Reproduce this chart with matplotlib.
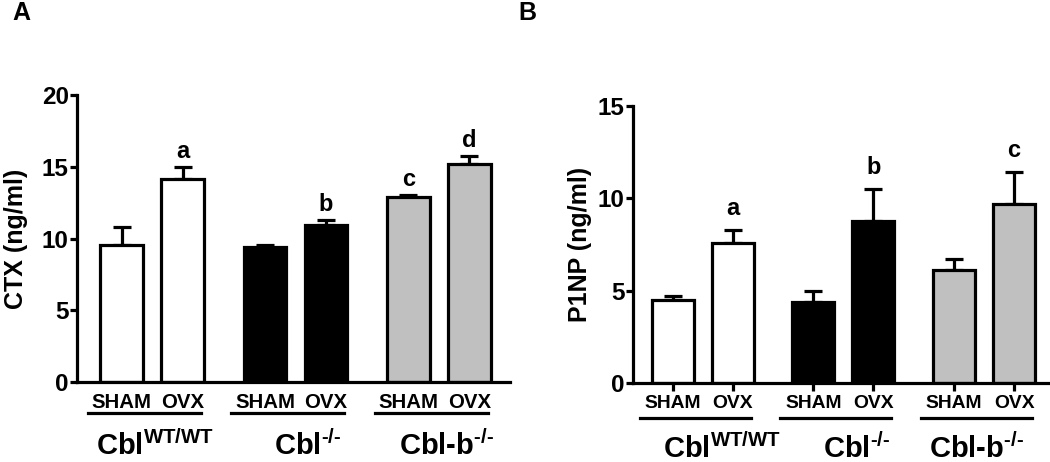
import numpy as np
import matplotlib
matplotlib.use('Agg')
import matplotlib.pyplot as plt

plt.rcParams['font.family'] = 'Liberation Sans'
plt.rcParams['font.weight'] = 'bold'
plt.rcParams['mathtext.fontset'] = 'custom'
plt.rcParams['mathtext.rm'] = 'Liberation Sans:bold'
plt.rcParams['mathtext.bf'] = 'Liberation Sans:bold'

conditions = ['SHAM', 'OVX', 'SHAM', 'OVX', 'SHAM', 'OVX']
groups = [r'Cbl$^{\text{WT/WT}}$', r'Cbl$^{\text{-/-}}$', r'Cbl-b$^{\text{-/-}}$']
colors = ['white', 'white', 'black', 'black', '#c0c0c0', '#c0c0c0']

ctx_mean = [9.55, 14.15, 9.4, 10.95, 12.9, 15.2]
ctx_err = [1.25, 0.85, 0.15, 0.35, 0.15, 0.55]
ctx_sig = ['', 'a', '', 'b', 'c', 'd']

p1np_mean = [4.5, 7.58, 4.37, 8.77, 6.12, 9.69]
p1np_err = [0.2, 0.72, 0.61, 1.73, 0.6, 1.73]
p1np_sig = ['', 'a', '', 'b', '', 'c']

pos = np.array([0, 1, 2.35, 3.35, 4.7, 5.7])

fig = plt.figure(figsize=(10.5, 4.62), dpi=100)
axA = fig.add_axes([0.0733, 0.173, 0.4127, 0.621])
axB = fig.add_axes([0.603, 0.171, 0.397, 0.600])


def draw(ax, mean, err, sig, ymax, ylabel, ypad, lab_fs, xticks, line_y, grp_y, grp_dx, sig_off, xlim):
    ax.bar(pos, mean, width=0.7, color=colors, edgecolor='black', linewidth=2.3, zorder=2)
    ax.errorbar(pos, mean, yerr=[np.zeros(6), err], fmt='none', ecolor='black',
                elinewidth=2.3, capsize=6.5, capthick=2.3, zorder=1)
    for x, m, e, s in zip(pos, mean, err, sig):
        if s:
            ax.annotate(s, (x, m + e), xytext=(0, sig_off), textcoords='offset points',
                        ha='center', va='bottom', fontsize=17, fontweight='bold')
    ax.set_ylim(0, ymax)
    ax.set_xlim(*xlim)
    ax.set_yticks(np.arange(0, ymax + 1, 5))
    ax.spines['top'].set_visible(False)
    ax.spines['right'].set_visible(False)
    ax.spines['left'].set_linewidth(2.3)
    ax.spines['bottom'].set_linewidth(2.3)
    ax.tick_params(axis='y', length=5, width=2.3, labelsize=17.5, pad=1)
    ax.set_xticks(pos)
    ax.set_xticklabels(conditions, fontsize=lab_fs, fontweight='bold')
    if xticks:
        ax.tick_params(axis='x', length=6, width=2.3, pad=3)
    else:
        ax.tick_params(axis='x', length=0, pad=8)
    ax.set_ylabel(ylabel, fontsize=18, fontweight='bold', labelpad=ypad)
    trans = ax.get_xaxis_transform()
    for g in range(3):
        x0 = pos[2 * g] - 0.55
        x1 = pos[2 * g + 1] + 0.3
        ax.plot([x0, x1], [line_y, line_y], color='black', lw=2.3, transform=trans, clip_on=False)
        ax.text((pos[2 * g] + pos[2 * g + 1]) / 2 + grp_dx[g], grp_y, groups[g], transform=trans,
                ha='center', va='baseline', fontsize=21, fontweight='bold')


draw(axA, ctx_mean, ctx_err, ctx_sig, 20, 'CTX (ng/ml)', 10, 14.7, False, -0.108, -0.254,
     [0.05, 0.2, 0.12], 3, (-0.73, 6.37))
draw(axB, p1np_mean, p1np_err, p1np_sig, 15, 'P1NP (ng/ml)', 4, 13.9, True, -0.126, -0.27,
     [0.33, 0.22, -0.13], 7, (-0.66, 6.3))

fig.text(0.0114, 0.957, 'A', fontsize=18, fontweight='bold', va='baseline')
fig.text(0.494, 0.957, 'B', fontsize=18, fontweight='bold', va='baseline')

fig.savefig('out.png', dpi=100)
